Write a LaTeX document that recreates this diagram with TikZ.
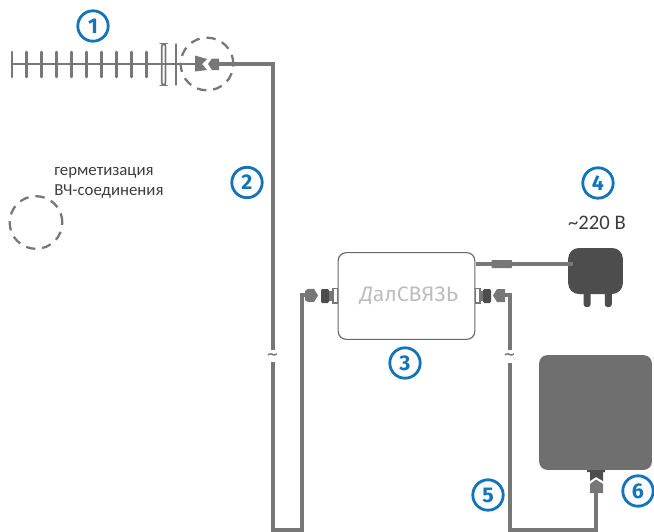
\documentclass[tikz,border=0pt]{standalone}
\usepackage{fontspec}
\setmainfont{Fira Sans}
\newfontfamily\labelfont{Carlito}
\newfontfamily\tildefont{DejaVu Sans}
\usetikzlibrary{calc}
\definecolor{cable}{HTML}{777777}
\definecolor{dark}{HTML}{4D4D4D}
\definecolor{blue1}{HTML}{1274BA}
\definecolor{panel}{HTML}{6F6F6F}
\definecolor{txt}{HTML}{3C3C3C}
\definecolor{logo}{HTML}{BDBDBD}
\tikzset{
  badge/.style={circle,draw=blue1,line width=2.1pt,minimum size=22.8pt,inner sep=0pt,text=blue1,font=\fontsize{16}{16}\selectfont\bfseries},
  cablepath/.style={draw=cable,line width=3pt,line join=miter},
  element/.style={draw=cable,line width=2.2pt,line cap=round},
  seal/.style={draw=cable,line width=1.7pt,dash pattern=on 7pt off 5.2pt},
  label/.style={text=txt,inner sep=0pt,anchor=west,font=\labelfont\fontsize{12.6}{12.6}\selectfont},
  tildemark/.style={text=cable,inner sep=0pt,font=\tildefont\fontsize{11}{11}\selectfont\bfseries},
  darkpart/.style={fill=dark,draw=none},
  greypart/.style={fill=cable,draw=none}
}
\begin{document}
\begin{tikzpicture}[x=0.75pt,y=-0.75pt]
\useasboundingbox (0,0) rectangle (654,532);
\coordinate (antout) at (215,64);
\coordinate (c1) at (273,64);
\coordinate (gap1a) at (273,350);
\coordinate (gap1b) at (273,362);
\coordinate (c2) at (273,530);
\coordinate (c3) at (301.5,530);
\coordinate (c4) at (301.5,295);
\coordinate (leftin) at (308,295);
\coordinate (rightin) at (500,295);
\coordinate (c5) at (509.5,295);
\coordinate (gap2a) at (509.5,350);
\coordinate (gap2b) at (509.5,363);
\coordinate (c6) at (509.5,530);
\coordinate (c7) at (596,530);
\coordinate (panelin) at (596,488);
% antenna
\coordinate (a0) at (12,64);
\coordinate (a1) at (197,64);
\draw[element] (a0) -- (a1);
\foreach \x in {12,26.9,41.8,56.7,71.6,86.5,101.4,116.3,131.2,146.1}
  \draw[element] (\x,52) -- (\x,77);
\draw[draw=cable,line width=1.3pt,rounded corners=1.8pt] (161.8,44) rectangle (165.6,85);
\draw[element] (176,44.5) -- (176,84.5);
% antenna connector
\fill[greypart] (195,55.5) -- (207,59) -- (202,64) -- (207,70) -- (195,71.5) -- cycle;
\fill[greypart] (208,64) -- (212,58.5) -- (219,58.5) -- (219,70) -- (212,70) -- cycle;
% seal rings
\node[circle,seal,minimum size=39.5pt,inner sep=0pt] (seal1) at (207,64) {};
\node[circle,seal,minimum size=39.5pt,inner sep=0pt] (seal2) at (36,222.5) {};
% cables
\draw[cablepath] (antout) -- (c1) -- (gap1a);
\draw[cablepath] (gap1b) -- (c2) -- (c3) -- (c4) -- (leftin);
\draw[cablepath] (rightin) -- (c5) -- (gap2a);
\draw[cablepath] (gap2b) -- (c6) -- (c7) -- (panelin);
\node[tildemark] (t1) at (272.5,356.5) {\char`\~};
\node[tildemark] (t2) at (509.5,356.5) {\char`\~};
% repeater box
\node[draw=dark!85,line width=0.85pt,rounded corners=6pt,fill=white,minimum width=102.5pt,minimum height=65pt,inner sep=0pt] (box) at (406.5,296) {};
\node[inner sep=0pt,text=logo] (logotext) at (409,295.5) {\resizebox{73.5pt}{11pt}{\itshape Д\upshape алСВЯЗЬ}};
% left connector of box
\fill[greypart] (305,291) -- (308,288.8) -- (314,288.8) -- (318,295.5) -- (314,302) -- (308,302) -- (305,300) -- cycle;
\fill[darkpart,rounded corners=1pt] (321,289) rectangle (329,303);
\fill[cable] (329,291) rectangle (333,301);
\draw[cable,line width=0.8pt] (333,288.5) rectangle (337.5,303);
% right connector of box
\draw[cable,line width=0.8pt] (475.5,288.5) rectangle (480,303);
\fill[cable] (480,291) rectangle (483,301);
\fill[darkpart,rounded corners=1pt] (483,289) rectangle (491,303);
\fill[greypart] (493,295.5) -- (497,289) -- (505,289) -- (505,302) -- (497,302) -- cycle;
% power adapter
\fill[dark,rounded corners=2pt] (583.6,290) rectangle (590.6,307);
\fill[dark,rounded corners=2pt] (604.8,290) rectangle (611.8,307);
\node[fill=dark,rounded corners=8pt,minimum width=41pt,minimum height=34.5pt,inner sep=0pt] (adapter) at (595.5,271) {};
\coordinate (boxpower) at (475.5,264);
\coordinate (adin) at (573,264);
\draw[draw=cable,line width=2.4pt] (boxpower) -- (adin);
\fill[greypart,rounded corners=0.5pt] (491.5,260) rectangle (512,268);
% panel antenna
\node[fill=panel,rounded corners=6pt,minimum width=84.5pt,minimum height=86pt,inner sep=0pt] (panel) at (595.5,412.5) {};
\fill[darkpart] (587,470) -- (605,470) -- (605,472) -- (603,472) -- (603,481) -- (596,477) -- (590,481) -- (590,472) -- (587,472) -- cycle;
\fill[greypart] (590,484) -- (596,479.5) -- (603,484) -- (603,493) -- (590,493) -- cycle;
% labels
\node[badge] (n1) at (93,26) {1};
\node[badge] (n2) at (247,182.5) {2};
\node[badge] (n3) at (405,363) {3};
\node[badge] (n4) at (598,183) {4};
\node[badge] (n5) at (488,495) {5};
\node[badge] (n6) at (638,491) {6};
\node[label] (hl1) at (54,173) {герметизация};
\node[label] (hl2) at (54,191) {ВЧ-соединения};
\node[text=txt,inner sep=0pt,font=\labelfont\fontsize{15.5}{15.5}\selectfont] (volt) at (597,223) {\char`\~220 В};
\end{tikzpicture}
\end{document}
